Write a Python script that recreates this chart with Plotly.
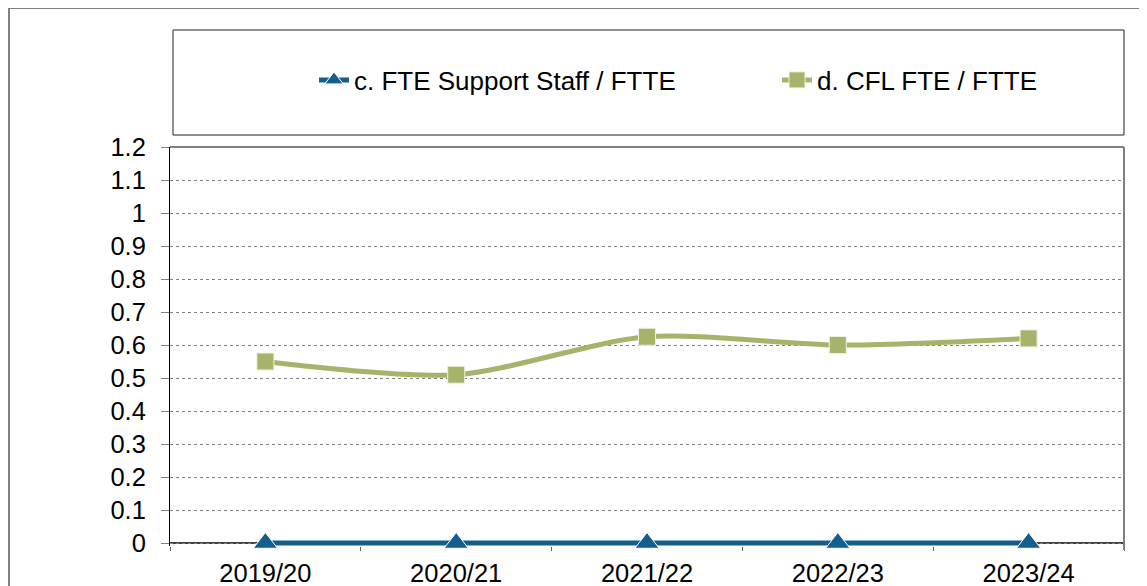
import plotly.graph_objects as go

years = ["2019/20", "2020/21", "2021/22", "2022/23", "2023/24"]
support_staff = [0, 0, 0, 0, 0]
cfl_fte = [0.55, 0.51, 0.625, 0.60, 0.62]

blue = "#135E8F"
green = "#A5B46A"
font_family = "Liberation Sans, Arial, sans-serif"

# the page adds an 8px body margin, so the figure is 8px smaller and shifted
OFF = 8
W, H = 1147 - OFF, 586 - OFF
# plot area in screen pixels: x 170..1124, y 147..546 (y=0 sits at 543)
L, R, T, B = 170, 1124, 147, 546
Y_MIN = -0.009


def px_x(p):
    return (p - L) / (R - L)


def px_y(p):
    return (B - p) / (B - T)


fig = go.Figure()

fig.add_trace(go.Scatter(
    x=years, y=support_staff, name="c. FTE Support Staff / FTTE",
    mode="lines+markers", line=dict(color=blue, width=5, shape="spline"),
    marker=dict(symbol="triangle-up", size=21, color=blue,
                line=dict(color="white", width=1)),
    cliponaxis=False, legend="legend",
))
fig.add_trace(go.Scatter(
    x=years, y=cfl_fte, name="d. CFL FTE / FTTE",
    mode="lines+markers", line=dict(color=green, width=5, shape="spline", smoothing=0.8),
    marker=dict(symbol="square", size=17, color=green,
                line=dict(color="#EEF1E0", width=1)),
    cliponaxis=False, legend="legend2",
))

shapes = [
    # outer chart border
    dict(type="rect", xref="paper", yref="paper",
         x0=px_x(9), x1=px_x(1160), y0=px_y(600), y1=px_y(8),
         line=dict(color="#808080", width=2), layer="below"),
    # legend box
    dict(type="rect", xref="paper", yref="paper",
         x0=px_x(173), x1=px_x(1124), y0=px_y(135), y1=px_y(30),
         line=dict(color="#202020", width=1)),
    # category axis line at zero
    dict(type="line", xref="paper", yref="y", x0=0, x1=1, y0=0, y1=0,
         line=dict(color="#404040", width=2), layer="below"),
    # plot area top and right borders
    dict(type="line", xref="paper", yref="paper", x0=0, x1=1, y0=1, y1=1,
         line=dict(color="black", width=1)),
    dict(type="line", xref="paper", yref="paper", x0=1, x1=1, y0=px_y(550), y1=1,
         line=dict(color="#808080", width=2)),
]

legend_style = dict(font=dict(size=26), bgcolor="rgba(0,0,0,0)",
                    yref="container", xref="container",
                    yanchor="middle", xanchor="left", y=1 - (80 - OFF) / H)

fig.update_layout(
    width=W, height=H,
    margin=dict(l=L - OFF, r=W - (R - OFF), t=T - OFF, b=H - (B - OFF), autoexpand=False),
    paper_bgcolor="white", plot_bgcolor="white",
    font=dict(family=font_family, size=25.5, color="black"),
    showlegend=True,
    legend=dict(x=(314 - OFF) / W, **legend_style),
    legend2=dict(x=(777 - OFF) / W, **legend_style),
    shapes=shapes,
    xaxis=dict(
        type="category", range=[-0.5, 4.5], tickson="boundaries",
        ticks="outside", ticklen=4, tickwidth=1, tickcolor="#606060",
        showline=False, showgrid=False, ticklabelstandoff=9, automargin=False,
        layer="below traces",
    ),
    yaxis=dict(
        range=[Y_MIN, 1.2], tickvals=[i / 10 for i in range(13)],
        ticks="outside", ticklen=8, tickcolor="#808080", tickwidth=1,
        showline=True, linecolor="black", linewidth=1,
        showgrid=True, gridcolor="#808080", griddash="dot", gridwidth=1,
        zeroline=False, ticklabelstandoff=10, automargin=False,
        layer="below traces",
    ),
)

fig.write_html("out.html")
